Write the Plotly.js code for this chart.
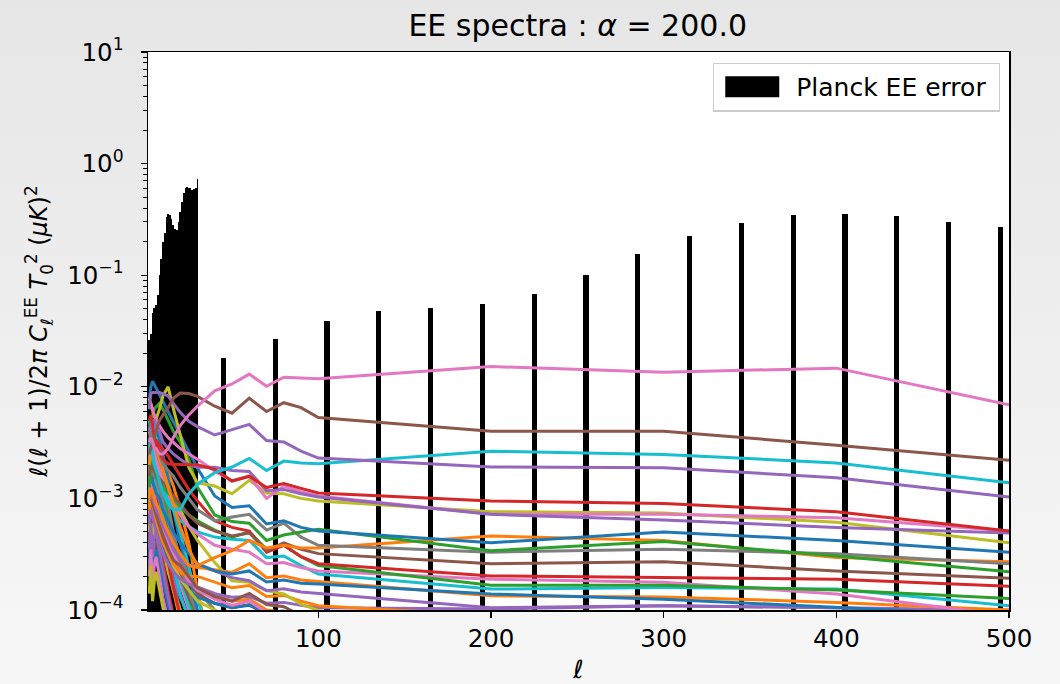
<!DOCTYPE html>
<html>
<head>
<meta charset="utf-8">
<script src="https://cdn.plot.ly/plotly-3.0.1.min.js"></script>
<style>
html,body{margin:0;padding:0;}
body{width:1060px;height:684px;background:linear-gradient(to bottom,#e6e6e6,#f7f7f7);}
#chart{width:1060px;height:684px;}
</style>
</head>
<body>
<div id="chart"></div>
<script>
// ---------- Planck EE error bars ----------
const lowEll = [2,3,4,5,6,7,8,9,10,11,12,13,14,15,16,17,18,19,20,21,22,23,24,25,26,27,28,29,30];
const lowErr = [0.026,0.030,0.046,0.051,0.054,0.067,0.10,0.14,0.20,0.237,0.334,0.357,0.345,0.32,0.28,0.262,0.253,0.30,0.37,0.455,0.54,0.61,0.62,0.61,0.60,0.58,0.59,0.60,0.73];
const highEll = [45,75,105,135,165,195,225,255,285,315,345,375,405,435,465,495];
const highErr = [0.018,0.0266,0.0385,0.0473,0.0513,0.0557,0.0685,0.101,0.156,0.226,0.295,0.348,0.355,0.341,0.301,0.272];

// ---------- multipoles at which the model spectra are sampled ----------
const ell = [2,3,4,5,6,8,10,13,16,20,25,30,40,50,60,70,80,90,100,200,300,400,500];

// ---------- model EE spectra (main, visible to high ell) ----------
const sA = [3.2e-3,3.5e-3,3.2e-3,2.8e-3,2.8e-3,2.5e-3,2.5e-3,2.8e-3,3.5e-3,4.5e-3,5.6e-3,6.7e-3,9.2e-3,1.06e-2,1.30e-2,1.01e-2,1.22e-2,1.20e-2,1.18e-2,1.52e-2,1.35e-2,1.47e-2,6.9e-3];
const sB = [2.5e-3,2.8e-3,3.2e-3,3.5e-3,4.0e-3,5.0e-3,5.6e-3,6.5e-3,7.9e-3,8.8e-3,8.7e-3,8.2e-3,6.7e-3,5.8e-3,7.9e-3,6.0e-3,7.2e-3,6.5e-3,5.3e-3,4.0e-3,4.0e-3,3.0e-3,2.2e-3];
const sC = [6.3e-3,8.7e-3,8.9e-3,8.9e-3,8.9e-3,8.9e-3,8.7e-3,8.3e-3,7.1e-3,5.9e-3,4.9e-3,4.4e-3,3.7e-3,4.1e-3,4.6e-3,3.3e-3,3.2e-3,2.65e-3,2.3e-3,1.91e-3,1.88e-3,1.53e-3,1.03e-3];
const sD = [2.5e-3,3.2e-3,2.5e-3,2.0e-3,1.8e-3,1.4e-3,1.12e-3,8.9e-4,7.9e-4,7.9e-4,1.1e-3,1.34e-3,1.70e-3,1.91e-3,2.28e-3,1.78e-3,2.16e-3,2.08e-3,2.04e-3,2.65e-3,2.48e-3,2.08e-3,1.38e-3];
const sE = [5.0e-3,5.6e-3,4.5e-3,3.5e-3,3.2e-3,2.6e-3,2.24e-3,2.04e-3,2.02e-3,2.0e-3,2.0e-3,2.0e-3,1.82e-3,1.43e-3,1.58e-3,1.25e-3,1.36e-3,1.23e-3,1.12e-3,9.5e-4,9.0e-4,7.6e-4,5.1e-4];
const sF = [4.0e-3,4.5e-3,5.0e-3,5.0e-3,4.5e-3,4.0e-3,3.2e-3,2.8e-3,2.5e-3,2.24e-3,2.0e-3,1.9e-3,1.9e-3,1.78e-3,1.74e-3,1.17e-3,1.2e-3,1.10e-3,1.03e-3,7.2e-4,6.4e-4,5.5e-4,4.9e-4];
const sG = [6.3e-3,7.1e-3,6.3e-3,5.6e-3,5.0e-3,4.5e-3,4.0e-3,3.5e-3,3.2e-3,2.8e-3,2.5e-3,2.24e-3,1.76e-3,1.43e-3,1.58e-3,1.0e-3,1.29e-3,1.15e-3,1.05e-3,7.2e-4,7.2e-4,6.7e-4,5.1e-4];
const sH = [7.9e-3,6.9e-3,6.0e-3,5.4e-3,5.1e-3,6.3e-3,8.3e-3,1.0e-2,6.4e-3,3.7e-3,1.88e-3,1.38e-3,1.29e-3,1.10e-3,1.45e-3,1.12e-3,1.10e-3,1.0e-3,9.5e-4,7.6e-4,7.4e-4,6.1e-4,4.0e-4];
const sI = [7.4e-3,1.0e-2,1.12e-2,1.05e-2,9.8e-3,8.5e-3,7.4e-3,6.0e-3,4.9e-3,3.7e-3,2.6e-3,1.86e-3,1.05e-3,8.3e-4,8.6e-4,5.9e-4,6.3e-4,5.5e-4,5.1e-4,4.0e-4,5.0e-4,4.2e-4,3.3e-4];
const sJ = [4.0e-3,5.0e-3,5.6e-3,6.3e-3,6.6e-3,7.1e-3,6.3e-3,5.0e-3,4.0e-3,3.2e-3,2.24e-3,1.26e-3,7.1e-4,6.2e-4,6.0e-4,4.2e-4,4.7e-4,5.0e-4,5.3e-4,3.4e-4,4.1e-4,3.05e-4,2.2e-4];
const sK = [3.2e-3,4.0e-3,3.5e-3,3.2e-3,2.8e-3,2.5e-3,2.0e-3,1.78e-3,1.58e-3,1.26e-3,1.0e-3,7.9e-4,6.3e-4,6.8e-4,7.2e-4,5.2e-4,6.0e-4,4.5e-4,3.8e-4,3.3e-4,3.5e-4,3.2e-4,2.6e-4];
const sL = [2.0e-3,2.5e-3,3.2e-3,3.2e-3,2.8e-3,2.24e-3,1.78e-3,1.26e-3,8.9e-4,5.6e-4,3.5e-4,2.5e-4,2.95e-4,3.4e-4,4.2e-4,3.6e-4,3.8e-4,3.6e-4,3.6e-4,4.6e-4,4.2e-4,2.95e-4,2.7e-4];
const sM = [1.58e-3,2.0e-3,1.9e-3,1.78e-3,1.66e-3,1.51e-3,1.38e-3,1.2e-3,1.05e-3,8.9e-4,7.1e-4,6.0e-4,5.1e-4,4.6e-4,4.9e-4,3.4e-4,4.0e-4,3.5e-4,3.2e-4,2.6e-4,2.7e-4,2.24e-4,1.93e-4];
const sN = [2.5e-3,3.2e-3,3.5e-3,3.5e-3,3.3e-3,3.0e-3,2.75e-3,2.4e-3,2.0e-3,1.58e-3,1.2e-3,9.5e-4,6.3e-4,5.5e-4,5.1e-4,3.3e-4,3.8e-4,3.0e-4,2.6e-4,2.02e-4,1.95e-4,1.89e-4,1.63e-4];
const sO = [1.26e-3,1.78e-3,2.0e-3,1.78e-3,1.58e-3,1.41e-3,1.26e-3,1.12e-3,1.0e-3,8.3e-4,7.1e-4,6.3e-4,5.2e-4,4.5e-4,5.0e-4,3.5e-4,3.8e-4,3.0e-4,2.5e-4,1.67e-4,1.67e-4,1.51e-4,1.27e-4];
const sP = [4.0e-3,3.5e-3,2.8e-3,2.5e-3,2.24e-3,1.78e-3,1.41e-3,1.12e-3,8.9e-4,7.1e-4,5.6e-4,4.8e-4,3.8e-4,3.5e-4,3.3e-4,2.6e-4,2.66e-4,2.4e-4,2.24e-4,1.89e-4,1.77e-4,1.39e-4,8.9e-5];
const sQ = [2.0e-3,2.5e-3,2.8e-3,2.5e-3,2.0e-3,1.58e-3,1.26e-3,1.0e-3,7.9e-4,6.3e-4,5.6e-4,5.0e-4,4.5e-4,4.3e-4,4.2e-4,2.95e-4,3.05e-4,2.5e-4,2.1e-4,1.54e-4,1.59e-4,1.54e-4,1.09e-4];
const sR = [1.26e-3,1.58e-3,1.41e-3,1.26e-3,1.12e-3,1.0e-3,7.9e-4,6.3e-4,5.0e-4,4.0e-4,3.2e-4,2.6e-4,2.24e-4,2.1e-4,2.24e-4,1.78e-4,1.86e-4,1.74e-4,1.71e-4,1.39e-4,1.25e-4,1.05e-4,8.9e-5];
const sS = [1.0e-3,1.26e-3,1.12e-3,1.0e-3,8.9e-4,7.9e-4,6.3e-4,5.0e-4,4.0e-4,3.2e-4,2.5e-4,2.4e-4,2.3e-4,2.17e-4,2.6e-4,1.95e-4,2.02e-4,1.86e-4,1.8e-4,1.34e-4,1.31e-4,1.17e-4,1.0e-4];
const sT = [1.0e-3,1.2e-3,1.0e-3,9e-4,8e-4,7e-4,5.6e-4,4.5e-4,3.5e-4,2.8e-4,2.5e-4,2.5e-4,2.24e-4,1.95e-4,1.83e-4,1.49e-4,1.55e-4,1.45e-4,1.41e-4,1.05e-4,1.09e-4,1.05e-4,8.9e-5];
const sV = [2.5e-3,3.2e-3,3.5e-3,3.5e-3,3.2e-3,2.5e-3,1.78e-3,1.26e-3,1.0e-3,7.9e-4,5.6e-4,4.2e-4,2.66e-4,1.83e-4,1.77e-4,1.49e-4,1.39e-4,1.13e-4,9.9e-5,5e-5,5e-5,5e-5,5e-5];
const sW = [1.0e-3,1.1e-3,9e-4,8e-4,7e-4,5.5e-4,4.5e-4,3.5e-4,2.8e-4,2.5e-4,2.0e-4,1.58e-4,1.32e-4,1.2e-4,1.41e-4,1.12e-4,1.07e-4,8.9e-5,7.9e-5,5e-5,5e-5,5e-5,5e-5];
const sX = [8e-4,1.0e-3,9e-4,7.5e-4,6.5e-4,5e-4,4e-4,3.2e-4,2.6e-4,2.2e-4,2.0e-4,2.0e-4,1.78e-4,1.58e-4,1.66e-4,1.32e-4,1.35e-4,1.2e-4,1.09e-4,8.9e-5,7.9e-5,7.9e-5,7.9e-5];
const sY = [6e-4,8e-4,7e-4,6e-4,5e-4,4e-4,3.2e-4,2.6e-4,2.2e-4,1.9e-4,1.7e-4,1.6e-4,1.4e-4,1.3e-4,1.32e-4,1.15e-4,1.17e-4,1.1e-4,1.05e-4,1.02e-4,1.09e-4,1.05e-4,1.0e-4];

// ---------- model EE spectra that fall off-scale at low / intermediate ell ----------
const x01 = [1.6e-3,2.4e-3,1.5e-3,2.0e-3,1.7e-3,1.0e-3,6.0e-4,3.2e-4,1.8e-4,1.0e-4,6e-5,4e-5];
const x02 = [9e-4,1.5e-3,8e-4,1.2e-3,1.3e-3,8e-4,5e-4,2.6e-4,1.5e-4,8e-5,5e-5];
const x03 = [6e-4,1.0e-3,5e-4,8e-4,9e-4,6e-4,4e-4,2.5e-4,1.6e-4,1.0e-4,6e-5];
const x04 = [4e-4,7e-4,3e-4,5e-4,6e-4,4e-4,2.6e-4,1.5e-4,9e-5,5e-5];
const x05 = [1.2e-3,1.8e-3,1.0e-3,1.4e-3,1.1e-3,7e-4,4.5e-4,2.8e-4,1.9e-4,1.3e-4,9e-5,6e-5];
const x06 = [3e-4,5e-4,2.4e-4,3.5e-4,4.2e-4,3e-4,2e-4,1.3e-4,9e-5,5e-5];
const x07 = [2.2e-3,3.0e-3,1.9e-3,2.5e-3,2.2e-3,1.4e-3,9e-4,5e-4,3e-4,1.7e-4,1.0e-4,6e-5,3e-5];
const x08 = [1.0e-3,1.6e-3,9e-4,1.3e-3,1.4e-3,1.0e-3,7e-4,4.5e-4,3e-4,1.9e-4,1.2e-4,8e-5,5e-5];
const x09 = [5e-4,8e-4,4e-4,6e-4,7e-4,5e-4,3.5e-4,2.2e-4,1.5e-4,1.0e-4,6e-5];
const x10 = [2.6e-3,3.6e-3,2.2e-3,3.0e-3,2.8e-3,1.8e-3,1.1e-3,6e-4,3.5e-4,2e-4,1.1e-4,7e-5];
const x11 = [2.5e-4,4e-4,2e-4,3e-4,3.5e-4,2.5e-4,1.7e-4,1.1e-4,7e-5];
const x12 = [1.5e-3,2.2e-3,2.0e-3,3.0e-3,3.5e-3,2.8e-3,2.2e-3,1.7e-3,1.3e-3,8e-4,4e-4,1.5e-4,3e-5];
const x13 = [1.8e-3,2.6e-3,1.6e-3,2.2e-3,2.4e-3,1.7e-3,1.2e-3,7e-4,4.2e-4,2.3e-4,1.3e-4,8e-5];
const x14 = [7e-4,1.1e-3,6e-4,9e-4,1.0e-3,7e-4,4.5e-4,2.6e-4,1.6e-4,9e-5,5e-5];
const x15 = [3.5e-4,6e-4,3e-4,4.5e-4,5e-4,3.4e-4,2.2e-4,1.3e-4,8e-5];
const x16 = [1.3e-3,2.0e-3,1.2e-3,1.6e-3,1.7e-3,1.2e-3,8e-4,5e-4,3.2e-4,2.0e-4,1.3e-4,9e-5,5e-5];
const x17 = [2e-4,3.5e-4,1.6e-4,2.5e-4,3e-4,2e-4,1.3e-4,8e-5];
const x18 = [2.8e-3,3.8e-3,2.4e-3,3.2e-3,3.0e-3,2.2e-3,1.5e-3,9e-4,5e-4,2.8e-4,1.5e-4,9e-5,5e-5];
const x19 = [1.4e-4,2.5e-4,1.2e-4,1.8e-4,2.2e-4,1.5e-4,1.0e-4,6e-5];
const x20 = [1.1e-3,1.7e-3,1.0e-3,1.4e-3,1.5e-3,1.1e-3,7e-4,4e-4,2.4e-4,1.4e-4,8e-5];
const x21 = [4e-3,5.5e-3,3.5e-3,4.5e-3,4.8e-3,3.5e-3,2.5e-3,1.5e-3,8e-4,4e-4,2e-4,1e-4,4e-5];
const x22 = [5e-3,4.2e-3,3.8e-3,4.5e-3,3.5e-3,2.5e-3,1.8e-3,1.2e-3,8e-4,5e-4,2.5e-4,1.2e-4,5e-5];
const x23 = [1.5e-3,2.0e-3,1.7e-3,1.6e-3,1.5e-3,1.2e-3,9e-4,6e-4,4.5e-4,3.0e-4,2.0e-4,1.5e-4,1.0e-4,7e-5];
const x24 = [7e-4,1.0e-3,9e-4,8e-4,7e-4,5.5e-4,4.5e-4,3.5e-4,2.8e-4,2.2e-4,1.8e-4,1.6e-4,1.4e-4,1.2e-4,1.25e-4,1.0e-4,9.5e-5,8e-5];
const x25 = [9e-4,1.2e-3,1.0e-3,9e-4,8e-4,6.5e-4,5e-4,3.8e-4,3.0e-4,2.3e-4,1.8e-4,1.4e-4,1.15e-4,1.05e-4,1.12e-4,9e-5,8e-5];
const x26 = [6e-4,8e-4,7e-4,6.5e-4,6e-4,4.8e-4,3.8e-4,3.0e-4,2.4e-4,1.9e-4,1.5e-4,1.3e-4,1.15e-4,1.05e-4,1.1e-4,9.5e-5,9.8e-5,8.5e-5];
const x27 = [1.1e-3,1.4e-3,1.2e-3,1.0e-3,9e-4,7e-4,5.5e-4,4.2e-4,3.2e-4,2.4e-4,1.8e-4,1.5e-4,1.25e-4,1.1e-4,1.2e-4,9.5e-5,9e-5];
const x28 = [8e-4,1.1e-3,9e-4,8e-4,7e-4,5.5e-4,4.2e-4,3.2e-4,2.5e-4,1.9e-4,1.5e-4,1.2e-4,1.0e-4,8e-5];

// ---------- styling ----------
const C = {blue:'#1f77b4',orange:'#ff7f0e',green:'#2ca02c',red:'#d62728',purple:'#9467bd',
           brown:'#8c564b',pink:'#e377c2',grey:'#7f7f7f',olive:'#bcbd22',cyan:'#17becf'};
const extraSeries = [
  [x01,C.blue],[x02,C.orange],[x03,C.green],[x04,C.red],[x05,C.purple],[x06,C.brown],
  [x07,C.pink],[x08,C.grey],[x09,C.olive],[x10,C.cyan],[x11,C.blue],[x12,C.orange],
  [x13,C.green],[x14,C.red],[x15,C.purple],[x16,C.brown],[x17,C.pink],[x18,C.grey],
  [x19,C.olive],[x20,C.cyan],[x21,C.blue],[x22,C.cyan],[x23,C.grey],[x24,C.orange],
  [x25,C.brown],[x26,C.blue],[x27,C.pink],[x28,C.olive]];
const mainSeries = [
  [sY,C.purple],[sX,C.orange],[sW,C.brown],[sV,C.olive],[sT,C.purple],[sS,C.orange],
  [sR,C.blue],[sQ,C.cyan],[sP,C.pink],[sO,C.green],[sN,C.red],[sM,C.brown],
  [sL,C.orange],[sK,C.grey],[sJ,C.green],[sI,C.blue],[sH,C.olive],[sG,C.pink],
  [sF,C.purple],[sE,C.red],[sD,C.cyan],[sC,C.purple],[sB,C.brown],[sA,C.pink]];

const traces = [];
traces.push({
  type:'bar', name:'Planck EE error\u00a0',
  x: lowEll.concat(highEll),
  y: lowErr.concat(highErr),
  width: lowEll.map(()=>1).concat(highEll.map(()=>3)),
  marker:{color:'#000000', line:{width:0}},
  showlegend:true, hoverinfo:'skip'
});
function addLine(vals,color){
  traces.push({type:'scatter',mode:'lines',x:ell.slice(0,vals.length),y:vals,
    line:{color:color,width:3},showlegend:false,hoverinfo:'skip'});
}
extraSeries.forEach(s=>addLine(s[0],s[1]));
mainSeries.forEach(s=>addLine(s[0],s[1]));

const minorVals = [];
for (let e=-4;e<1;e++){ for(let m=2;m<=9;m++){ minorVals.push(m*Math.pow(10,e)); } }

const FONT = 'DejaVu Sans, sans-serif';
const layout = {
  width:1060, height:684,
  paper_bgcolor:'rgba(0,0,0,0)', plot_bgcolor:'#ffffff',
  margin:{l:148,r:51,t:52,b:74,pad:0},
  font:{family:FONT,color:'#000000',size:24},
  title:{text:'EE spectra : <i>α</i> = 200.0', font:{family:FONT,size:30,color:'#000'},
         x:0.545, xanchor:'center', y:0.962, yanchor:'middle', xref:'container', yref:'container'},
  bargap:0,
  xaxis:{type:'linear', range:[1.35,500], tickmode:'array', tickvals:[100,200,300,400,500],
         ticktext:['100','200','300','400','500'],
         ticks:'outside', ticklen:6, tickwidth:1.3, tickcolor:'#000',
         showline:true, linecolor:'#000', linewidth:1.5, mirror:true,
         showgrid:false, zeroline:false, tickfont:{family:FONT,size:24.5},
         title:{text:'<i>ℓ</i>', font:{family:FONT,size:25}, standoff:12}},
  yaxis:{type:'log', range:[-4,1], tickmode:'array',
         tickvals:[1e-4,1e-3,1e-2,1e-1,1e0,1e1],
         ticktext:['10<sup>−4</sup>','10<sup>−3</sup>','10<sup>−2</sup>','10<sup>−1</sup>','10<sup>0</sup>','10<sup>1</sup>'],
         ticks:'outside', ticklen:6, tickwidth:1.3, tickcolor:'#000', ticklabelstandoff:12,
         minor:{tickmode:'array', tickvals:minorVals, ticks:'outside', ticklen:3.5, tickwidth:1, tickcolor:'#000', showgrid:false},
         showline:true, linecolor:'#000', linewidth:1.5, mirror:true,
         showgrid:false, zeroline:false, tickfont:{family:FONT,size:24.5},
         title:{text:'<i>ℓ</i>(<i>ℓ</i> + 1)/2<i>π</i> <i>C</i><sub><i>ℓ</i></sub><sup>EE</sup> <i>T</i><sub>0</sub><sup>2</sup> (<i>μK</i>)<sup>2</sup>',
                font:{family:FONT,size:24}, standoff:12}},
  legend:{x:0.9895, xanchor:'right', y:0.981, yanchor:'top',
          bgcolor:'rgba(255,255,255,0.85)', bordercolor:'#cccccc', borderwidth:1.3,
          font:{family:FONT,size:25}, itemwidth:72},
  showlegend:true
};

Plotly.newPlot('chart', traces, layout, {staticPlot:true, displayModeBar:false}).then(function(){
  document.querySelectorAll('.legend .legendpoints path').forEach(function(p){
    p.setAttribute('d','M-30,-10.5H24V10.5H-30Z');
    p.style.fill = '#000'; p.style.stroke = 'none';
  });
});
</script>
</body>
</html>
